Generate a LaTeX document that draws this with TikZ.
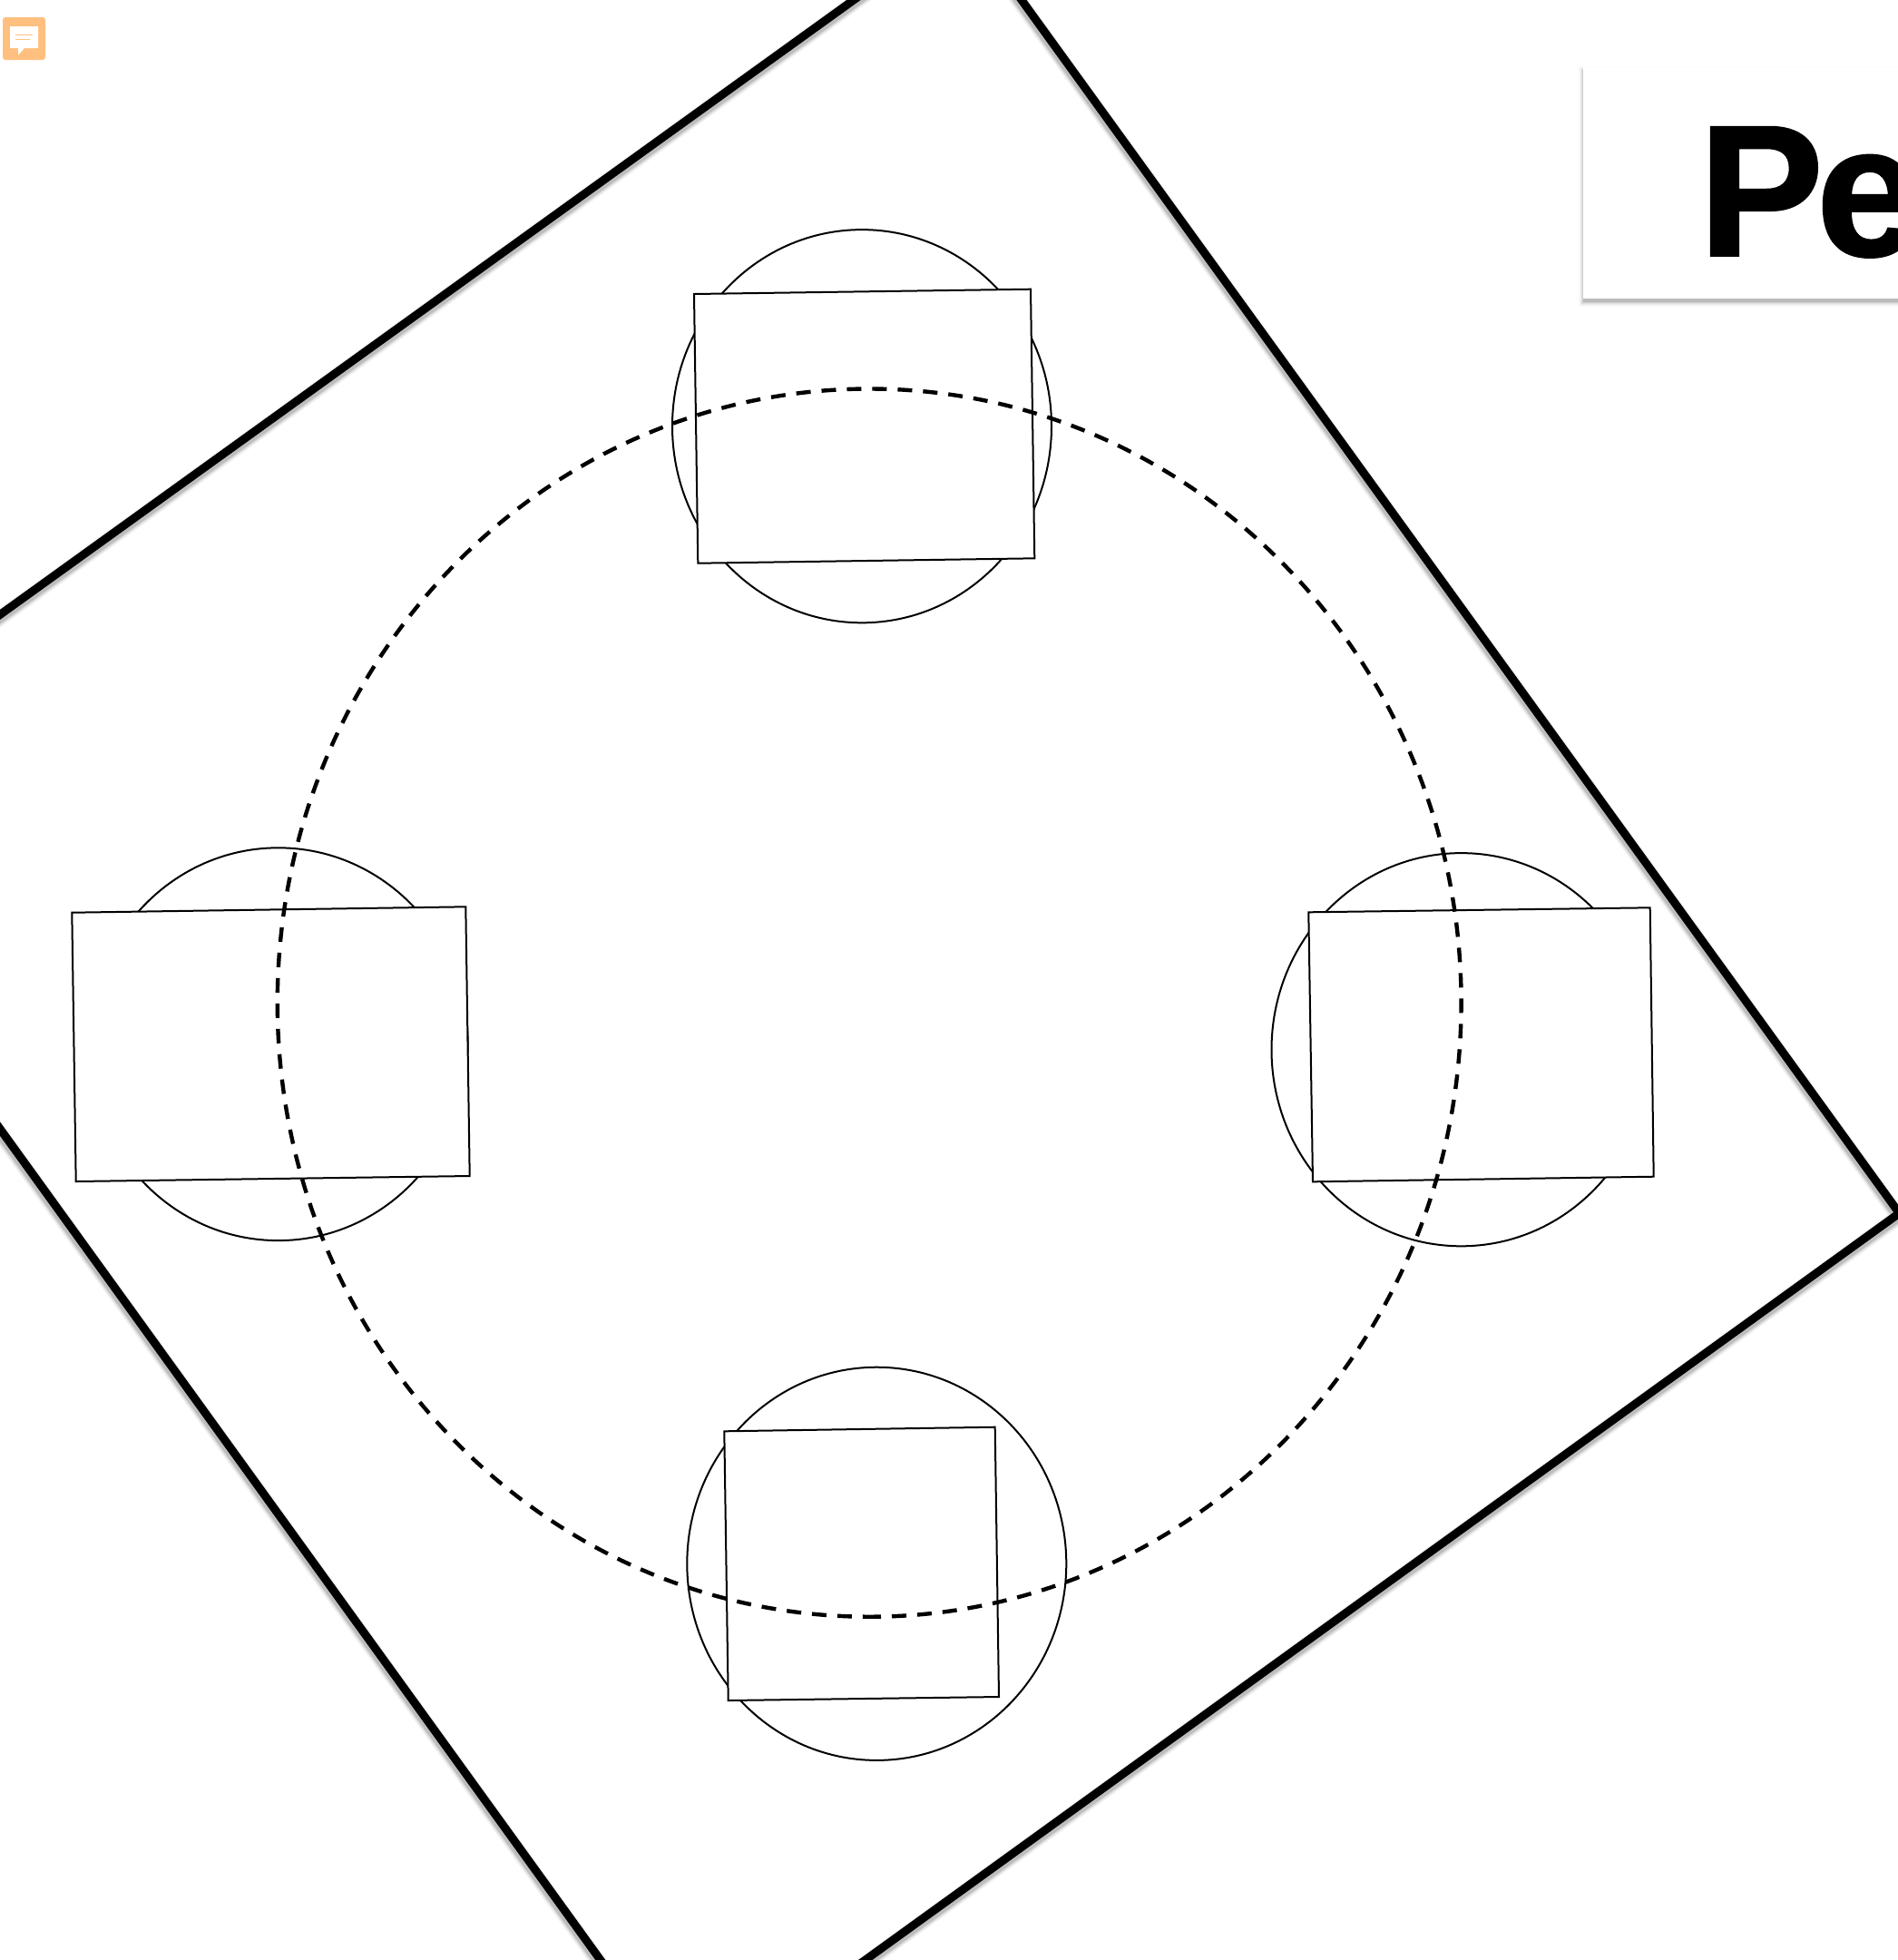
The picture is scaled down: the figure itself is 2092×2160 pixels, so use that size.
\documentclass[tikz,border=0pt]{standalone}
\usepackage{fontspec}
\newfontfamily\titlefont[BoldFeatures={FakeBold=1.2}]{Liberation Sans}
\definecolor{iconorange}{HTML}{FFC07F}
\tikzset{
  thinline/.style={draw=black,line width=1pt,fill=white,line join=miter},
  bigline/.style={draw=black,line width=4.5pt,line join=miter},
  bigshadow/.style={draw=black,line join=miter},
  dashring/.style={draw=black,line width=2.2pt,dash pattern=on 8pt off 6pt,dash phase=1.6pt},
  iconbg/.style={fill=iconorange,rounded corners=1.5pt},
}
\begin{document}
\begin{tikzpicture}[x=0.5pt,y=-0.5pt]
\useasboundingbox (0,0) rectangle (2092,2160);
\clip (0,0) rectangle (2092,2160);
\fill[white] (0,0) rectangle (2092,2160);
% comment icon
\path[iconbg] (3,19) rectangle (50,66);
\fill[white] (11,29) -- (42,29) -- (42,53) -- (27,53) -- (20,60.7) -- (20,53) -- (11,53) -- cycle;
\draw[iconorange,line width=0.6pt] (17,38.7) -- (35.5,38.7);
\draw[iconorange,line width=0.6pt] (17,43.2) -- (32.5,43.2);
% big tilted square: soft shadow, then outline
\foreach \w/\o in {9/0.03,8/0.04,7/0.05,6/0.07,5.2/0.09}{
  \draw[bigshadow,line width=\w pt,opacity=\o]
    ([shift={(-0.3pt,-2pt)}]1062.6,-87.6) -- ([shift={(-0.3pt,-2pt)}]2093.4,1337) -- ([shift={(-0.3pt,-2pt)}]761.9,2298.5) -- ([shift={(-0.3pt,-2pt)}]-269.3,871.3) -- cycle;
}
\draw[bigline] (1062.6,-87.6) -- (2093.4,1337) -- (761.9,2298.5) -- (-269.3,871.3) -- cycle;
% circles
\draw[thinline] (950,469.7) ellipse [x radius=104.5pt,y radius=108.3pt];
\draw[thinline] (306.7,1150.7) ellipse [x radius=104.5pt,y radius=108.2pt];
\draw[thinline] (1610.5,1156.7) ellipse [x radius=104.5pt,y radius=108.3pt];
\draw[thinline] (966.3,1723.3) ellipse [x radius=104.5pt,y radius=108.3pt];
% rectangles
\draw[thinline] (765,324) -- (1136,318.7) -- (1140.3,615.3) -- (769.3,620.7) -- cycle;
\draw[thinline] (79.3,1005.7) -- (513.3,999.3) -- (517.7,1296) -- (83.7,1302) -- cycle;
\draw[thinline] (1442.3,1005.3) -- (1818.7,1000.3) -- (1822.7,1296.7) -- (1447,1302.3) -- cycle;
\draw[thinline] (798.3,1577.3) -- (1096.7,1572.7) -- (1101,1870) -- (802.7,1874) -- cycle;
% dashed ring, starting at its lowest point and running towards the right
\draw[dashring] (958.2,1781.7) arc [start angle=-90,end angle=270,x radius=326.2pt,y radius=338.3pt];
% title box
\foreach \e/\o in {5/0.015,4/0.025,3/0.04,2/0.05,1/0.07,0/0.09}{
  \fill[black,opacity=\o] (1745-\e,74+4-\e) rectangle (2200,329+4+\e);
}
\fill[white] (1745,74) rectangle (2200,329);
\node[anchor=base west,inner sep=0pt,text=black] (title) at (1872,281.7) {\titlefont\bfseries\fontsize{103pt}{103pt}\selectfont P\kern-4pt e};
\end{tikzpicture}
\end{document}
